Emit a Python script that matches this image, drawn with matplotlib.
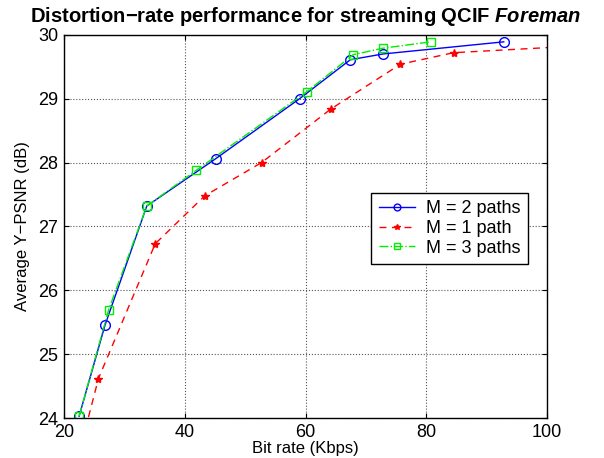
import matplotlib
matplotlib.use("Agg")
import matplotlib.pyplot as plt

plt.rcParams['font.family'] = ['Liberation Sans', 'DejaVu Sans']
plt.rcParams['mathtext.fontset'] = 'custom'
plt.rcParams['mathtext.rm'] = 'Liberation Sans:bold'
plt.rcParams['mathtext.bfit'] = 'Liberation Sans:bold:italic'

# M = 2 paths
x2 = [22.5, 26.8, 33.7, 45.1, 59.0, 67.4, 72.8, 92.8]
y2 = [24.03, 25.46, 27.32, 28.06, 29.00, 29.61, 29.70, 29.89]
# M = 1 path
x1 = [22.5, 25.7, 35.1, 43.3, 52.7, 64.2, 75.7, 84.5, 104.0]
y1 = [23.45, 24.62, 26.73, 27.48, 28.00, 28.84, 29.54, 29.72, 29.82]
# M = 3 paths
x3 = [22.5, 27.4, 33.7, 41.9, 60.2, 67.9, 72.8, 80.7]
y3 = [24.03, 25.70, 27.32, 27.88, 29.11, 29.69, 29.79, 29.89]

fig = plt.figure(figsize=(6.04, 4.58), dpi=100)
ax = fig.add_axes([0.106, 0.087, 0.80, 0.837])

ax.plot(x2, y2, '-', color='blue', marker='o', mfc='none', ms=7, lw=1, label='M = 2 paths')
ax.plot(x1, y1, '--', color='red', marker='*', ms=6, lw=1, dashes=(5, 4), label='M = 1 path')
ax.plot(x3, y3, '-.', color='#00ee00', marker='s', mfc='none', ms=5.5, lw=1, label='M = 3 paths')

ax.set_xlim(20, 100)
ax.set_ylim(24, 30)
ax.set_xticks([20, 40, 60, 80, 100])
ax.set_yticks([24, 25, 26, 27, 28, 29, 30])
ax.grid(True, linestyle=':', color='#555555', lw=0.8)
ax.tick_params(direction='in', labelsize=13, top=True, right=True)
ax.tick_params(axis='x', pad=4)
ax.tick_params(axis='y', pad=4)
for s in ax.spines.values():
    s.set_linewidth(1)

ax.set_xlabel('Bit rate (Kbps)', fontsize=12, labelpad=0)
ax.set_ylabel('Average Y\u2212PSNR (dB)', fontsize=12, labelpad=6)
ax.set_title('Distortion\u2212rate performance for streaming QCIF $\\mathbfit{Foreman}$',
             fontsize=14.5, fontweight='bold', pad=9)

leg = ax.legend(loc='upper left', bbox_to_anchor=(0.636, 0.587), fontsize=13,
                fancybox=False, edgecolor='black', framealpha=1, markerscale=0.7,
                handlelength=2.0, handletextpad=0.65, borderpad=0.4, labelspacing=0.15,
                borderaxespad=0)
leg.get_frame().set_linewidth(1)

fig.savefig('out.png', dpi=100)
